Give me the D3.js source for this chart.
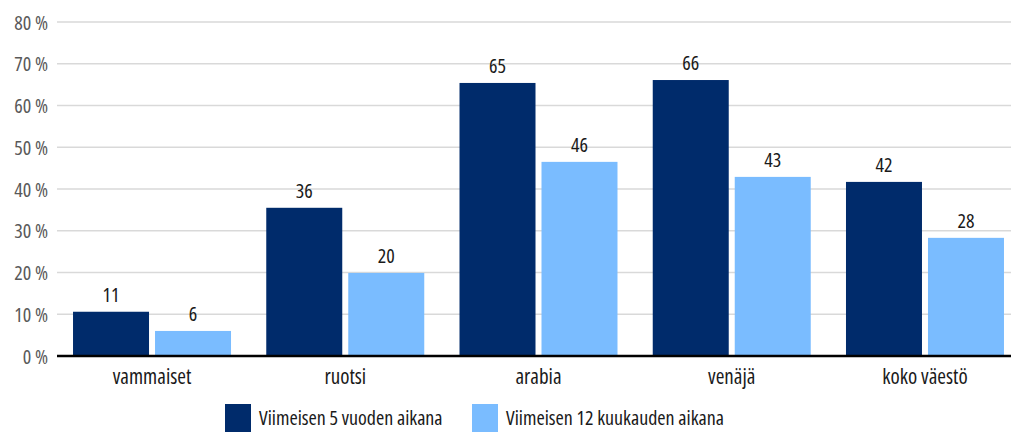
<!DOCTYPE html>
<html><head><meta charset="utf-8">
<script src="https://cdn.jsdelivr.net/npm/d3@7"></script>
<style>
html,body{margin:0;padding:0;background:#fff;}
svg{display:block;font-family:"Open Sans",sans-serif;font-stretch:75%;}
svg text{font-family:"Open Sans",sans-serif;font-stretch:75%;}
</style></head>
<body>
<svg id="chart" width="1011" height="432"></svg>
<script>
const categories = ["vammaiset","ruotsi","arabia","venäjä","koko väestö"];
const seriesNames = ["Viimeisen 5 vuoden aikana","Viimeisen 12 kuukauden aikana"];
const fiveYears = [10.6, 35.5, 65.4, 66.1, 41.7];
const twelveMonths = [6.0, 19.9, 46.5, 42.9, 28.3];
const fiveYearsLabels = ["11","36","65","66","42"];
const twelveMonthsLabels = ["6","20","46","43","28"];
const yTicks = [0,10,20,30,40,50,60,70,80];
const colors = ["#002b6b","#7abcff"];

const svg = d3.select("#chart");
const x = d3.scaleBand().domain(categories).range([55.4, 1021.6]).paddingInner(0.1824).paddingOuter(0.0912);
const x1 = d3.scaleBand().domain([0,1]).range([0, x.bandwidth()]).paddingInner(0.0732);
const y = d3.scaleLinear().domain([0,80]).range([356,22]);

// gridlines
svg.append("g").selectAll("line").data(yTicks.filter(d=>d>0)).join("line")
  .attr("x1",57).attr("x2",1011).attr("y1",d=>y(d)).attr("y2",d=>y(d))
  .attr("stroke","#d9d9d9").attr("stroke-width",1.5);

// y axis labels
const yAxis = d3.axisLeft(y).tickValues(yTicks).tickSize(0).tickPadding(0).tickFormat(d=>d+" %");
const ga = svg.append("g").attr("transform","translate(48,0)").call(yAxis);
ga.select(".domain").remove();
ga.attr("font-family",null).attr("font-size",null);
ga.selectAll("text").attr("fill","#595959").style("font-size","20px").attr("dy","0.35em");

const series = [fiveYears, twelveMonths];
const labels = [fiveYearsLabels, twelveMonthsLabels];
series.forEach((vals,si)=>{
  const g = svg.append("g");
  g.selectAll("rect").data(vals).join("rect")
    .attr("x",(d,i)=>x(categories[i])+x1(si))
    .attr("width",x1.bandwidth())
    .attr("y",d=>y(d))
    .attr("height",d=>y(0)-y(d))
    .attr("fill",colors[si]);
  g.selectAll("text").data(vals).join("text")
    .attr("x",(d,i)=>x(categories[i])+x1(si)+x1.bandwidth()/2)
    .attr("y",d=>y(d)-10)
    .attr("text-anchor","middle")
    .attr("fill","#1a1a1a")
    .style("font-size","20px")
    .text((d,i)=>labels[si][i]);
});

// baseline
svg.append("line").attr("x1",57).attr("x2",1011).attr("y1",y(0)).attr("y2",y(0))
  .attr("stroke","#000").attr("stroke-width",2.5);

// x axis labels
const xAxis = d3.axisBottom(x).tickSize(0).tickPadding(0);
const gx = svg.append("g").attr("transform","translate(0,"+y(0)+")").call(xAxis);
gx.select(".domain").remove();
gx.attr("font-family",null).attr("font-size",null);
gx.selectAll("text").attr("fill","#1a1a1a").style("font-size","21px").attr("y",28).attr("dy",0);

// legend
const legX = [225, 472];
const leg = svg.append("g");
seriesNames.forEach((n,i)=>{
  leg.append("rect").attr("x",legX[i]).attr("y",404).attr("width",26).attr("height",28).attr("fill",colors[i]);
  leg.append("text").attr("x",legX[i]+34).attr("y",425).attr("fill","#1a1a1a").style("font-size","20px").text(n);
});
</script>
</body></html>
